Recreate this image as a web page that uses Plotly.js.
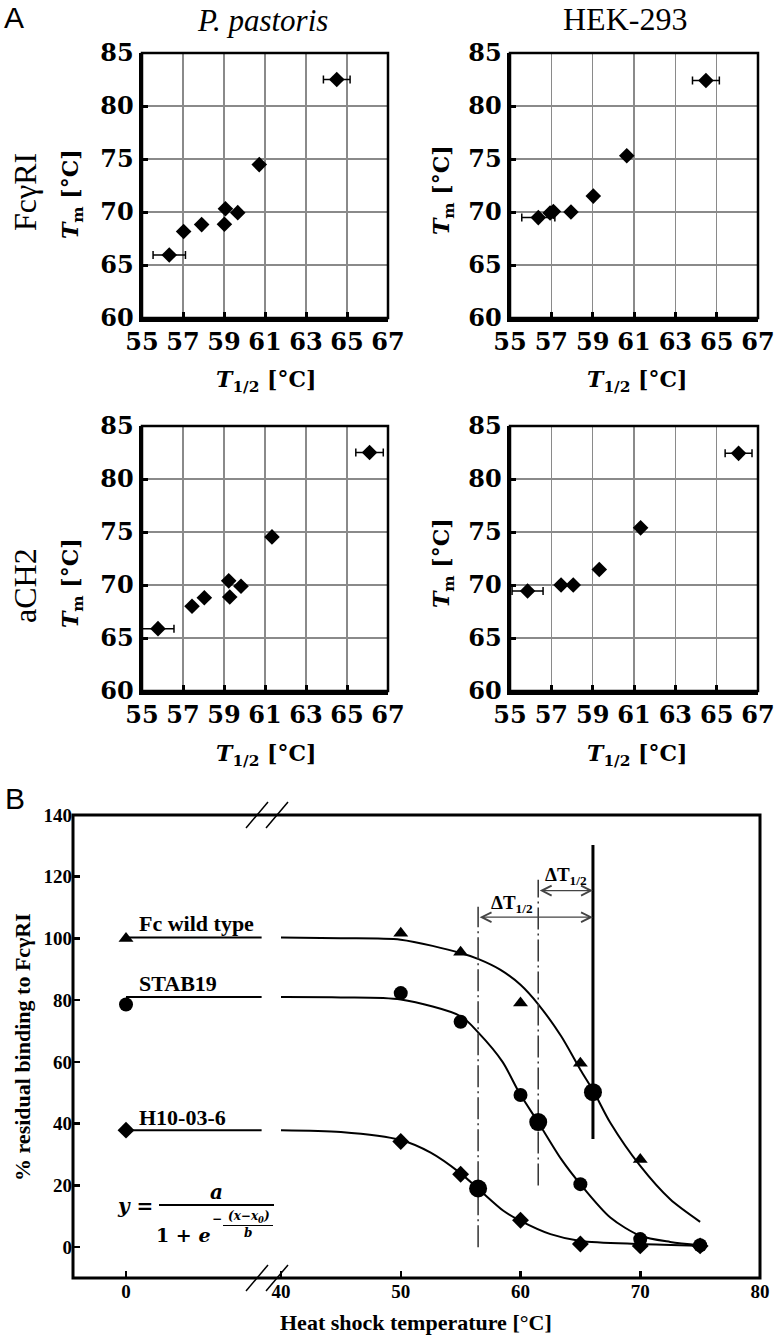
<!DOCTYPE html>
<html><head><meta charset="utf-8">
<script src="https://cdn.plot.ly/plotly-3.0.1.min.js"></script>
<style>html,body{margin:0;padding:0;background:#fff}#chart{width:776px;height:1341px}</style>
</head><body><div id="chart"></div>
<script>
// ---------- Panel A data (T1/2 vs Tm) ----------
const ppFcX   = [56.33, 57.03, 57.91, 59.02, 59.07, 59.67, 60.72, 64.50];
const ppFcY   = [65.94, 68.16, 68.81, 68.84, 70.30, 69.94, 74.47, 82.50];
const ppFcErr = [0.79, null, null, null, null, null, null, 0.65];

const hekFcX   = [56.37, 56.94, 57.10, 57.95, 59.03, 60.65, 64.48];
const hekFcY   = [69.47, 69.90, 70.05, 70.00, 71.50, 75.31, 82.40];
const hekFcErr = [0.80, null, null, null, null, null, 0.65];

const ppChX   = [55.78, 57.44, 58.04, 59.28, 59.23, 59.83, 61.34, 66.10];
const ppChY   = [65.88, 67.99, 68.80, 68.87, 70.39, 69.88, 74.54, 82.50];
const ppChErr = [0.78, null, null, null, null, null, null, 0.67];

const hekChX   = [55.85, 57.47, 58.06, 59.32, 61.32, 66.06];
const hekChY   = [69.44, 70.00, 70.00, 71.46, 75.39, 82.42];
const hekChErr = [0.75, null, null, null, null, 0.65];

const aTicksX = [55, 57, 59, 61, 63, 65, 67];
const aTicksY = [60, 65, 70, 75, 80, 85];

// ---------- Panel B data (residual binding) ----------
const tempPts  = [0, 50, 55, 60, 65, 70, 75];
const wtPts    = [100, 101.7, 95.5, 79.1, 59.6, 28.4, null];
const stabPts  = [78.6, 82.3, 73.0, 49.3, 20.4, 2.6, 0.6];
const h10Pts   = [37.9, 34.2, 23.6, 8.7, 1.0, 0.4, 0.4];

const fitLeftT    = [0, 35];
const wtFitLeft   = [100.3, 100.3];
const stabFitLeft = [81.0, 81.0];
const h10FitLeft  = [37.9, 37.9];

const wtFitT   = [40, 45, 50, 55, 56.5, 58.3, 60, 61.5, 63.4, 65, 66.1, 67.5, 70, 72.5, 75];
const wtFit    = [100.3, 100.1, 99.6, 95.3, 93.3, 89.9, 85.0, 78.6, 68.3, 57.5, 50.5, 40.3, 26.3, 15.5, 8.2];
const stabFitT = [40, 45, 50, 55, 56.5, 58.5, 59.9, 61.5, 63.4, 65, 67.5, 70, 72.5, 75];
const stabFit  = [81.0, 80.9, 80.2, 74.8, 69.4, 60.0, 50.0, 40.3, 28.5, 20.4, 9.6, 3.7, 1.7, 0.6];
const h10FitT  = [40, 45, 50, 52.5, 55, 56.5, 58.6, 60, 62.5, 65, 70, 75];
const h10Fit   = [37.9, 37.3, 34.7, 30.6, 23.9, 18.8, 11.7, 8.5, 4.2, 2.0, 1.0, 0.4];

const midT = [66.05, 61.48, 56.46];   // T1/2 of WT, STAB19, H10-03-6
const midV = [50.2, 40.5, 19.0];
const vlineTop = [130.3, 119.0, 110.3];
const vlineBottom = [35.0, 20.0, 0.0];
const deltaY = [115.5, 106.9];

const bTicksY = [0, 20, 40, 60, 80, 100, 120, 140];
const bTicksXLeft = [0];
const bTicksXRight = [40, 50, 60, 70, 80];

// ---------- helpers ----------
const W = 776, H = 1341;
const fx = px => px / W, fy = py => 1 - py / H;
const SERIF = 'Liberation Serif', WIDE = 'DejaVu Serif', SANS = 'Liberation Sans';

function axX(x0, x1, anchor) {
  return {domain: [fx(x0), fx(x1)], range: [55, 67], anchor: anchor, tickmode: 'array', tickvals: aTicksX,
    ticks: 'inside', ticklen: 6, tickwidth: 3, tickcolor: '#000', showline: true, linecolor: '#000', linewidth: 3.5,
    showgrid: true, gridcolor: '#8a8a8a', gridwidth: 1.2, zeroline: false, fixedrange: true,
    tickfont: {family: WIDE, size: 24, color: '#000', weight: 'bold'}};
}
function axY(y0, y1, anchor) {
  return {domain: [fy(y1), fy(y0)], range: [60, 85], anchor: anchor, tickmode: 'array', tickvals: aTicksY,
    ticks: 'inside', ticklen: 6, tickwidth: 3, tickcolor: '#000', showline: true, linecolor: '#000', linewidth: 3.5,
    showgrid: true, gridcolor: '#8a8a8a', gridwidth: 1.2, zeroline: false, fixedrange: true,
    tickfont: {family: WIDE, size: 24, color: '#000', weight: 'bold'}};
}
function scatA(x, y, err, xa, ya) {
  return {type: 'scatter', mode: 'markers', x: x, y: y, xaxis: xa, yaxis: ya,
    marker: {symbol: 'diamond', size: 12, color: '#000'},
    error_x: {type: 'data', array: err, symmetric: true, color: '#000', thickness: 1.5, width: 4},
    hoverinfo: 'skip'};
}

const traces = [
  scatA(ppFcX, ppFcY, ppFcErr, 'x', 'y'),
  scatA(hekFcX, hekFcY, hekFcErr, 'x2', 'y2'),
  scatA(ppChX, ppChY, ppChErr, 'x3', 'y3'),
  scatA(hekChX, hekChY, hekChErr, 'x4', 'y4')
];

// Panel B fitted curves
const fitLine = {color: '#000', width: 2, shape: 'spline', smoothing: 0.8};
[wtFitLeft, stabFitLeft, h10FitLeft].forEach(v => {
  traces.push({type: 'scatter', mode: 'lines', x: fitLeftT, y: v, xaxis: 'x5', yaxis: 'y5', line: {color: '#000', width: 2}, hoverinfo: 'skip'});
});
[[wtFitT, wtFit], [stabFitT, stabFit], [h10FitT, h10Fit]].forEach(p => {
  traces.push({type: 'scatter', mode: 'lines', x: p[0], y: p[1], xaxis: 'x6', yaxis: 'y5', line: fitLine, hoverinfo: 'skip'});
});

// vertical T1/2 lines
const vStyles = [
  {color: '#000', width: 3, dash: 'solid'},
  {color: '#333', width: 1.5, dash: '22px,4px,2px,4px'},
  {color: '#333', width: 1.5, dash: '22px,4px,2px,4px'}
];
midT.forEach((t, i) => {
  traces.push({type: 'scatter', mode: 'lines', x: [t, t], y: [vlineBottom[i], vlineTop[i]], xaxis: 'x6', yaxis: 'y5', line: vStyles[i], hoverinfo: 'skip'});
});

// data points
function splitPts(vals, symbol, size) {
  const lx = [], ly = [], rx = [], ry = [];
  tempPts.forEach((t, i) => {
    if (vals[i] === null) return;
    if (t < 38) { lx.push(t); ly.push(vals[i]); } else { rx.push(t); ry.push(vals[i]); }
  });
  traces.push({type: 'scatter', mode: 'markers', x: lx, y: ly, xaxis: 'x5', yaxis: 'y5', marker: {symbol: symbol, size: size, color: '#000'}, cliponaxis: false, hoverinfo: 'skip'});
  traces.push({type: 'scatter', mode: 'markers', x: rx, y: ry, xaxis: 'x6', yaxis: 'y5', marker: {symbol: symbol, size: size, color: '#000'}, cliponaxis: false, hoverinfo: 'skip'});
}
splitPts(wtPts, 'triangle-up', 13);
splitPts(stabPts, 'circle', 14);
splitPts(h10Pts, 'diamond', 13);

traces.push({type: 'scatter', mode: 'markers', x: midT, y: midV, xaxis: 'x6', yaxis: 'y5',
  marker: {symbol: 'circle', size: 18, color: '#000'}, hoverinfo: 'skip'});

// ---------- layout ----------
const bTickFont = {family: SERIF, size: 19, color: '#000', weight: 'bold'};
const layout = {
  width: W, height: H, margin: {l: 0, r: 0, t: 0, b: 0}, autosize: false,
  paper_bgcolor: '#fff', plot_bgcolor: 'rgba(0,0,0,0)', showlegend: false,
  xaxis: axX(142, 388, 'y'), yaxis: axY(53, 318, 'x'),
  xaxis2: axX(510, 758, 'y2'), yaxis2: axY(53, 318, 'x2'),
  xaxis3: axX(142, 388, 'y3'), yaxis3: axY(426, 691, 'x3'),
  xaxis4: axX(510, 758, 'y4'), yaxis4: axY(426, 691, 'x4'),
  xaxis5: {domain: [fx(73), fx(271)], range: [-13.68, 37.42], anchor: 'y5', tickmode: 'array', tickvals: bTicksXLeft,
    ticks: 'inside', ticklen: 7, tickwidth: 2.5, tickcolor: '#000', showline: false, showgrid: false, zeroline: false,
    fixedrange: true, tickfont: bTickFont},
  xaxis6: {domain: [fx(271), fx(760)], range: [39.165, 80], anchor: 'y5', tickmode: 'array', tickvals: bTicksXRight,
    ticks: 'inside', ticklen: 7, tickwidth: 2.5, tickcolor: '#000', showline: false, showgrid: false, zeroline: false,
    fixedrange: true, tickfont: bTickFont},
  yaxis5: {domain: [fy(1278), fy(815)], range: [-10, 140], anchor: 'x5', tickmode: 'array', tickvals: bTicksY,
    ticks: 'inside', ticklen: 7, tickwidth: 2.5, tickcolor: '#000', showline: false, showgrid: false, zeroline: false,
    fixedrange: true, tickfont: bTickFont},
  shapes: [],
  annotations: []
};

// panel A box tops/rights
['', '2', '3', '4'].forEach(s => {
  layout.shapes.push({type: 'rect', xref: 'x' + s + ' domain', yref: 'y' + s + ' domain', x0: 0, x1: 1, y0: 0, y1: 1,
    line: {color: '#000', width: 2.5}, layer: 'above'});
});
// panel B box
layout.shapes.push({type: 'rect', xref: 'paper', yref: 'paper', x0: fx(73), x1: fx(760), y0: fy(1278), y1: fy(815),
  line: {color: '#000', width: 3}, layer: 'above'});
// axis break marks
[815, 1278].forEach(yc => {
  [257, 277].forEach(xc => {
    layout.shapes.push({type: 'line', xref: 'paper', yref: 'paper', x0: fx(xc - 11), y0: fy(yc + 13), x1: fx(xc + 11), y1: fy(yc - 13),
      line: {color: '#000', width: 1.5}, layer: 'above'});
  });
});
// formula fraction bars
layout.shapes.push({type: 'line', xref: 'paper', yref: 'paper', x0: fx(159), x1: fx(274), y0: fy(1205), y1: fy(1205), line: {color: '#000', width: 1.8}});
layout.shapes.push({type: 'line', xref: 'paper', yref: 'paper', x0: fx(223), x1: fx(273), y0: fy(1225.5), y1: fy(1225.5), line: {color: '#000', width: 1.2}});

function ann(px, py, text, font, extra) {
  return Object.assign({xref: 'paper', yref: 'paper', x: fx(px), y: fy(py), text: text, showarrow: false,
    xanchor: 'center', yanchor: 'middle', font: Object.assign({color: '#000'}, font)}, extra || {});
}
const A = layout.annotations;
A.push(ann(14, 18, 'A', {family: SANS, size: 30}));
A.push(ann(15, 798, 'B', {family: SANS, size: 30}));
A.push(ann(262, 20, '<i>P. pastoris</i>', {family: SERIF, size: 31}));
A.push(ann(625, 19, 'HEK-293', {family: SERIF, size: 32}));
A.push(ann(25, 192, 'FcγRI', {family: SERIF, size: 32}, {textangle: -90}));
A.push(ann(25, 585, 'aCH2', {family: SERIF, size: 32}, {textangle: -90}));
const tmTitle = '<b><i>T</i><sub>m</sub> [°C]</b>';
const thTitle = '<b><i>T</i><sub>1/2</sub> [°C]</b>';
const wideTitle = {family: WIDE, size: 22};
A.push(ann(72, 194, tmTitle, wideTitle, {textangle: -90}));
A.push(ann(443, 190, tmTitle, wideTitle, {textangle: -90}));
A.push(ann(72, 583, tmTitle, wideTitle, {textangle: -90}));
A.push(ann(443, 563, tmTitle, wideTitle, {textangle: -90}));
A.push(ann(266, 381, thTitle, wideTitle));
A.push(ann(637, 381, thTitle, wideTitle));
A.push(ann(266, 755, thTitle, wideTitle));
A.push(ann(637, 755, thTitle, wideTitle));

// panel B titles
A.push(ann(22, 1047, '<b>% residual binding to FcγRI</b>', {family: SERIF, size: 22}, {textangle: -90}));
A.push(ann(416, 1322, '<b>Heat shock temperature [°C]</b>', {family: SERIF, size: 22}));

// series labels
const seriesLabels = ['Fc wild type', 'STAB19', 'H10-03-6'];
const labelY = [104.8, 85.4, 41.9];
seriesLabels.forEach((s, i) => {
  A.push({xref: 'x5', yref: 'y5', x: 2.8, y: labelY[i], text: '<b>' + s + '</b>', showarrow: false,
    xanchor: 'left', yanchor: 'middle', font: {family: SERIF, size: 22, color: '#000'}});
});

// delta T1/2 arrows and labels
[1, 2].forEach((k, j) => {
  A.push({xref: 'x6', yref: 'y5', axref: 'x6', ayref: 'y5', x: midT[0], y: deltaY[j], ax: midT[k], ay: deltaY[j],
    text: '', showarrow: true, arrowhead: 5, startarrowhead: 5, arrowside: 'end+start', arrowsize: 1.6,
    startarrowsize: 1.6, arrowwidth: 1.2, arrowcolor: '#444', standoff: 0, startstandoff: 0});
});
A.push({xref: 'x6', yref: 'y5', x: 63.77, y: 120.3, text: '<b>ΔT<sub>1/2</sub></b>', showarrow: false,
  font: {family: SERIF, size: 19, color: '#000'}});
A.push({xref: 'x6', yref: 'y5', x: 59.33, y: 111.2, text: '<b>ΔT<sub>1/2</sub></b>', showarrow: false,
  font: {family: SERIF, size: 19, color: '#000'}});

// formula
const fBig = {family: WIDE, size: 20, weight: 'bold'};
const fSmall = {family: WIDE, size: 12, weight: 'bold'};
A.push(ann(135, 1206, '<i>y</i> =', fBig));
A.push(ann(216, 1192, '<i>a</i>', fBig));
A.push(ann(183, 1235, '1 + <i>e</i>', {family: WIDE, size: 19, weight: 'bold'}));
A.push(ann(217, 1219, '−', fSmall));
A.push(ann(249, 1217, '<i>(x−x<sub>0</sub>)</i>', fSmall));
A.push(ann(248, 1233, '<i>b</i>', fSmall));

Plotly.newPlot('chart', traces, layout, {staticPlot: true, displayModeBar: false});
</script>
</body></html>
